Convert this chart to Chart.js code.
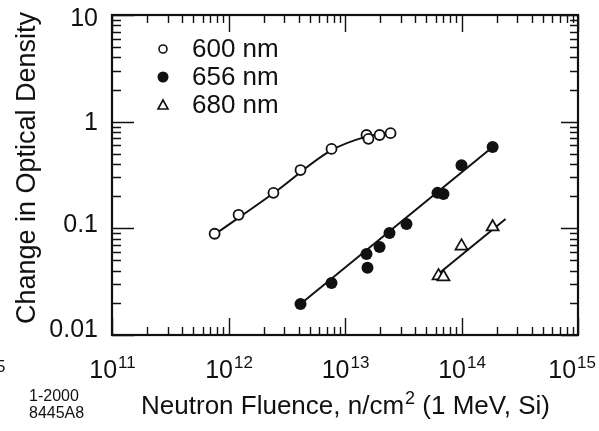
<!DOCTYPE html>
<html>
<head>
<meta charset="utf-8">
<script src="https://cdn.jsdelivr.net/npm/chart.js@4.4.0/dist/chart.umd.min.js"></script>
<style>
  body { margin: 0; background: #fff; }
  #wrap { width: 599px; height: 431px; }
</style>
</head>
<body>
<div id="wrap"><canvas id="odchart" width="599" height="431"></canvas></div>
<script>
"use strict";

// fluence (n/cm2) and change in optical density
const fl600 = [7.6e11, 1.22e12, 2.43e12, 4.15e12, 7.66e12, 1.53e13, 1.59e13, 1.98e13, 2.46e13];
const od600 = [0.089, 0.134, 0.215, 0.352, 0.555, 0.75, 0.69, 0.75, 0.78];
const fl656 = [4.15e12, 7.66e12, 1.53e13, 1.56e13, 1.98e13, 2.41e13, 3.37e13, 6.22e13, 7.0e13, 1.0e14, 1.85e14];
const od656 = [0.0195, 0.0308, 0.0575, 0.0426, 0.067, 0.0906, 0.11, 0.215, 0.21, 0.39, 0.58];
const fl680 = [6.35e13, 7.0e13, 1.0e14, 1.85e14];
const od680 = [0.0358, 0.035, 0.068, 0.103];

// fitted curves drawn through the points
const fit600X = [7.2e11, 2.43e12, 7.66e12, 1.5e13, 2.5e13];
const fit600Y = [0.084, 0.213, 0.54, 0.72, 0.80];
const fit656X = [4.15e12, 1.85e14];
const fit656Y = [0.0195, 0.58];
const fit680X = [6.47e13, 2.39e14];
const fit680Y = [0.0382, 0.1225];

// axes
const xTicks = [1e11, 1e12, 1e13, 1e14, 1e15];
const xTickExp = ["11", "12", "13", "14", "15"];
const yTicks = [0.01, 0.1, 1, 10];
const yTickLabels = ["0.01", "0.1", "1", "10"];
const legendLabels = ["600 nm", "656 nm", "680 nm"];

const FONT = "'Liberation Sans', Arial, sans-serif";

function pts(xs, ys) {
	let out = [];
	for (let i = 0; i < xs.length; i++) {
		out.push({ x : xs[i], y : ys[i] });
	}
	return out;
}

// box, inward ticks, labels, legend and titles
const decorPlugin = {
	id : "decor",
	afterDraw : function(chart) {
		const ctx = chart.ctx;
		const a = chart.chartArea;
		const xs = chart.scales.x;
		const ys = chart.scales.y;
		ctx.save();
		ctx.strokeStyle = "#111";
		ctx.fillStyle = "#111";

		// frame
		ctx.lineWidth = 2.2;
		ctx.strokeRect(a.left, a.top, a.right - a.left, a.bottom - a.top);

		// x ticks, top and bottom
		ctx.lineWidth = 1.4;
		for (let d = 11; d <= 15; d++) {
			for (let m = 1; m <= 9; m++) {
				if (d == 15 && m > 1) break;
				let px = Math.round(xs.getPixelForValue(m * Math.pow(10, d))) + 0.5;
				let len = (m == 1) ? 17 : 8;
				ctx.beginPath();
				ctx.moveTo(px, a.bottom); ctx.lineTo(px, a.bottom - len);
				ctx.moveTo(px, a.top); ctx.lineTo(px, a.top + len);
				ctx.stroke();
			}
		}
		// y ticks, left and right
		for (let d = -2; d <= 1; d++) {
			for (let m = 1; m <= 9; m++) {
				if (d == 1 && m > 1) break;
				let py = Math.round(ys.getPixelForValue(m * Math.pow(10, d))) + 0.5;
				let lenL = (m == 1) ? 22 : 9;
				let lenR = (m == 1) ? 17 : 8;
				ctx.beginPath();
				ctx.moveTo(a.left, py); ctx.lineTo(a.left + lenL, py);
				ctx.moveTo(a.right, py); ctx.lineTo(a.right - lenR, py);
				ctx.stroke();
			}
		}

		// y tick labels
		ctx.font = "25px " + FONT;
		ctx.textAlign = "right";
		ctx.textBaseline = "middle";
		let yOff = [-5, -3, 1, 4];
		for (let i = 0; i < yTicks.length; i++) {
			let py = ys.getPixelForValue(yTicks[i]) + yOff[i];
			ctx.fillText(yTickLabels[i], 98, py);
		}

		// x tick labels 10^n
		ctx.textAlign = "left";
		ctx.textBaseline = "alphabetic";
		for (let i = 0; i < xTicks.length; i++) {
			let px = xs.getPixelForValue(xTicks[i]);
			ctx.font = "25px " + FONT;
			let w1 = ctx.measureText("10").width;
			ctx.font = "17px " + FONT;
			let w2 = ctx.measureText(xTickExp[i]).width;
			let left = px - (w1 + w2) / 2;
			if (left + w1 + w2 > 595) left = 595 - w1 - w2;
			ctx.font = "25px " + FONT;
			ctx.fillText("10", left, 378);
			ctx.font = "17px " + FONT;
			ctx.fillText(xTickExp[i], left + w1 + 1, 368);
		}
		// clipped piece of a neighbouring label
		ctx.font = "17px " + FONT;
		ctx.fillText("5", -4, 372);

		// x title
		ctx.font = "26px " + FONT;
		let t1 = "Neutron Fluence, n/cm";
		let t2 = " (1 MeV, Si)";
		let wa = ctx.measureText(t1).width;
		let wc = ctx.measureText(t2).width;
		ctx.font = "18px " + FONT;
		let wb = ctx.measureText("2").width;
		let tx = 345 - (wa + wb + wc) / 2;
		ctx.font = "26px " + FONT;
		ctx.fillText(t1, tx, 414);
		ctx.font = "18px " + FONT;
		ctx.fillText("2", tx + wa + 1, 404);
		ctx.font = "26px " + FONT;
		ctx.fillText(t2, tx + wa + wb + 1, 414);

		// small figure code
		ctx.font = "16px " + FONT;
		ctx.fillText("1-2000", 29, 401);
		ctx.fillText("8445A8", 29, 418);

		// y title
		ctx.save();
		ctx.translate(35, 168);
		ctx.rotate(-Math.PI / 2);
		ctx.textAlign = "center";
		ctx.font = "27px " + FONT;
		ctx.fillText("Change in Optical Density", 0, 0);
		ctx.restore();

		// legend
		let ly = [49, 77, 105];
		ctx.lineWidth = 1.6;
		for (let i = 0; i < 3; i++) {
			let cx = 163, cy = ly[i];
			ctx.beginPath();
			if (i == 0) {
				ctx.arc(cx, cy, 4, 0, Math.PI * 2);
				ctx.fillStyle = "#fff"; ctx.fill(); ctx.stroke();
			} else if (i == 1) {
				ctx.arc(cx, cy, 5.5, 0, Math.PI * 2);
				ctx.fillStyle = "#111"; ctx.fill();
			} else {
				ctx.moveTo(cx, cy - 5); ctx.lineTo(cx + 5, cy + 4); ctx.lineTo(cx - 5, cy + 4); ctx.closePath();
				ctx.fillStyle = "#fff"; ctx.fill(); ctx.stroke();
			}
			ctx.fillStyle = "#111";
			ctx.font = "26px " + FONT;
			ctx.textAlign = "left";
			ctx.textBaseline = "middle";
			ctx.fillText(legendLabels[i], 192, cy + 1);
		}
		ctx.restore();
	}
};

let odCtx = document.getElementById("odchart");
let odChart = new Chart(odCtx, {
	type : "scatter",
	data : {
		datasets : [
			{
				label : "600 nm",
				data : pts(fl600, od600),
				pointStyle : "circle",
				pointRadius : 5,
				pointBackgroundColor : "#fff",
				pointBorderColor : "#111",
				pointBorderWidth : 1.8,
				showLine : false,
				order : 0
			},
			{
				label : "656 nm",
				data : pts(fl656, od656),
				pointStyle : "circle",
				pointRadius : 6,
				pointBackgroundColor : "#111",
				pointBorderColor : "#111",
				pointBorderWidth : 0,
				showLine : false,
				order : 0
			},
			{
				label : "680 nm",
				data : pts(fl680, od680),
				pointStyle : "triangle",
				pointRadius : 7,
				pointBackgroundColor : "#fff",
				pointBorderColor : "#111",
				pointBorderWidth : 1.7,
				showLine : false,
				order : 0
			},
			{
				label : "fit 600",
				data : pts(fit600X, fit600Y),
				showLine : true,
				pointRadius : 0,
				borderColor : "#111",
				borderWidth : 2,
				cubicInterpolationMode : "monotone",
				order : 1
			},
			{
				label : "fit 656",
				data : pts(fit656X, fit656Y),
				showLine : true,
				pointRadius : 0,
				borderColor : "#111",
				borderWidth : 2,
				order : 1
			},
			{
				label : "fit 680",
				data : pts(fit680X, fit680Y),
				showLine : true,
				pointRadius : 0,
				borderColor : "#111",
				borderWidth : 2,
				order : 1
			}
		]
	},
	options : {
		responsive : false,
		animation : false,
		devicePixelRatio : 1,
		layout : { padding : { left : 112, right : 21, top : 15, bottom : 96 } },
		plugins : {
			legend : { display : false },
			tooltip : { enabled : false }
		},
		scales : {
			x : { type : "logarithmic", min : 1e11, max : 1e15, display : false },
			y : { type : "logarithmic", min : 0.01, max : 10, display : false }
		}
	},
	plugins : [decorPlugin]
});
</script>
</body>
</html>
